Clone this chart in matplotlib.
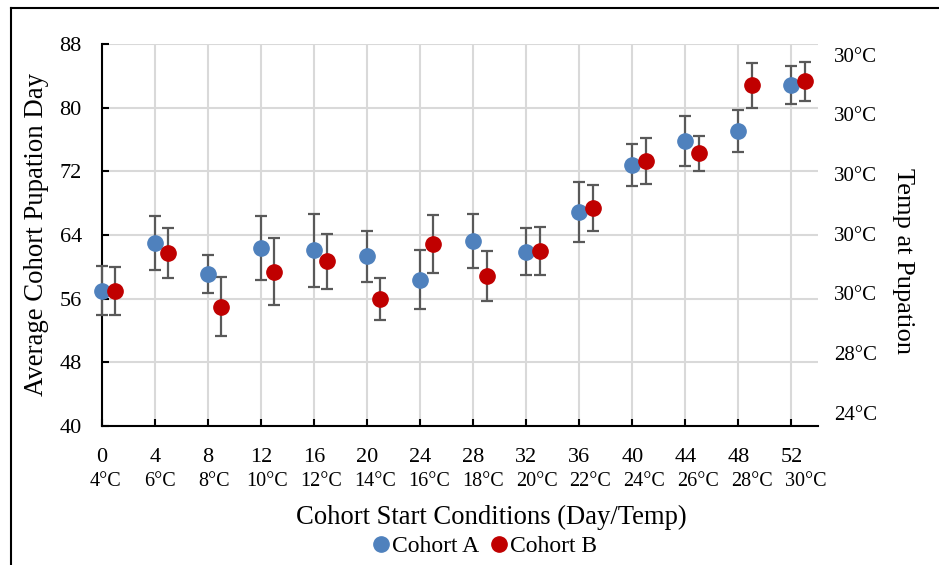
import numpy as np
import matplotlib.pyplot as plt
from matplotlib.lines import Line2D

plt.rcParams['font.family'] = ['Liberation Serif', 'DejaVu Serif']

# start day of each cohort and the start temperature
days = [0, 4, 8, 12, 16, 20, 24, 28, 32, 36, 40, 44, 48, 52]
start_temps = ['4°C', '6°C', '8°C', '10°C', '12°C', '14°C', '16°C',
               '18°C', '20°C', '22°C', '24°C', '26°C', '28°C', '30°C']

# cohort A sits on the day, cohort B one day later
days_b = [d + 1 for d in days]

mean_a = [57.0, 63.0, 59.1, 62.4, 62.1, 61.3, 58.4, 63.3, 61.9, 66.9, 72.8, 75.8, 77.1, 82.8]
err_a = [3.1, 3.45, 2.4, 4.0, 4.6, 3.2, 3.7, 3.4, 2.95, 3.75, 2.6, 3.15, 2.65, 2.4]
mean_b = [57.0, 61.7, 55.0, 59.4, 60.7, 56.0, 62.85, 58.8, 62.0, 67.4, 73.3, 74.3, 82.8, 83.35]
err_b = [3.0, 3.15, 3.75, 4.2, 3.45, 2.65, 3.65, 3.15, 3.05, 2.85, 2.9, 2.2, 2.8, 2.45]

# right hand axis labels (bottom to top)
pupation_temps = ['24°C', '28°C', '30°C', '30°C', '30°C', '30°C', '30°C']

blue = '#4F81BD'
red = '#C00000'
errc = '#595959'

fig = plt.figure(figsize=(9.39, 5.65), dpi=100)
ax = fig.add_axes([102/939, 1 - 426/565, (818-102)/939, (426-44)/565])

for x, m, e, c, lab in [(days, mean_a, err_a, blue, 'Cohort A'),
                        (days_b, mean_b, err_b, red, 'Cohort B')]:
    eb = ax.errorbar(x, m, yerr=e, fmt='o', color=c, ms=11, mec=c,
                     ecolor=errc, elinewidth=1.6, capsize=4.5, capthick=1.6,
                     label=lab, zorder=3)
    for art in eb.lines[0:1] + tuple(eb.lines[1]) + tuple(eb.lines[2]):
        art.set_clip_on(False)

ax.set_xlim(0, 54)
ax.set_ylim(40, 88)
ax.set_yticks(np.arange(40, 89, 8))
ax.set_xticks(days)
ax.set_xticklabels([str(d) for d in days], fontsize=16)
ax.tick_params(axis='y', labelsize=16, direction='in', length=5, width=1.5, pad=14.5)
ax.tick_params(axis='x', direction='in', length=5, width=1.5, pad=16)
ax.grid(True, color='#D9D9D9', linewidth=1.5)
ax.set_axisbelow(True)
for s in ['top', 'right']:
    ax.spines[s].set_visible(False)
for s in ['left', 'bottom']:
    ax.spines[s].set_linewidth(1.5)

# second row of x labels: start temperatures
for d, t in zip(days, start_temps):
    ax.text(d + 0.3 + d * 0.015, -0.145, t, transform=ax.get_xaxis_transform(),
            ha='center', va='center', fontsize=14.5)

# right axis with the pupation temperature labels
ax2 = ax.twinx()
ax2.set_ylim(-0.22, 6.18)
ax2.set_yticks(range(len(pupation_temps)))
ax2.set_yticklabels(pupation_temps, fontsize=15)
ax2.tick_params(axis='y', length=0, pad=11.5)
for s in ax2.spines.values():
    s.set_visible(False)

fig.text(37/939, 1 - 234/565, 'Average Cohort Pupation Day', rotation=90,
         ha='center', va='center', fontsize=19.3)
fig.text(903/939, 1 - 261/565, 'Temp at Pupation', rotation=-90,
         ha='center', va='center', fontsize=19)
fig.text(491/939, 1 - 517/565, 'Cohort Start Conditions (Day/Temp)',
         ha='center', va='center', fontsize=19.2)

handles, labels = ax.get_legend_handles_labels()
handles = [Line2D([], [], marker='o', ls='', color=blue, ms=11),
           Line2D([], [], marker='o', ls='', color=red, ms=11)]
fig.legend(handles, labels, loc='center', bbox_to_anchor=(485/939, 1 - 546/565),
           ncol=2, frameon=False, fontsize=17, handlelength=0.7,
           handletextpad=0.1, columnspacing=0.5, borderpad=0)

# chart frame (only top and left edges are visible in the crop)
fig.add_artist(Line2D([11/939, 1], [1 - 8/565, 1 - 8/565], color='black', lw=1.5))
fig.add_artist(Line2D([11/939, 11/939], [0, 1 - 8/565], color='black', lw=1.5))

plt.savefig('out.png', dpi=100)
